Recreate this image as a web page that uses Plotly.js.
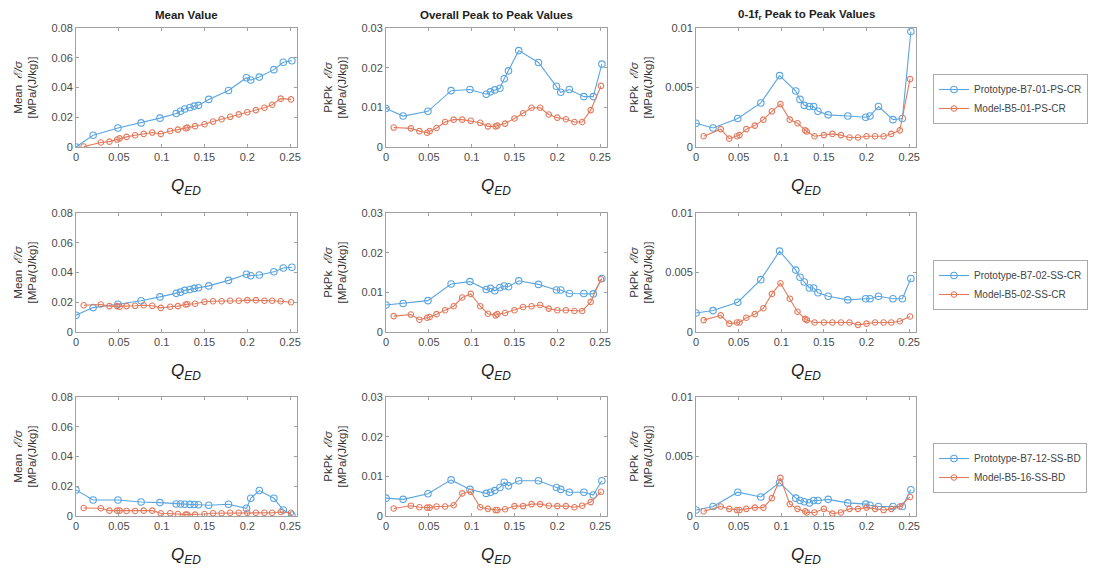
<!DOCTYPE html>
<html>
<head>
<meta charset="utf-8">
<script src="https://cdn.plot.ly/plotly-3.0.1.min.js"></script>
<style>html,body{margin:0;padding:0;background:#fff;}#chart{width:1095px;height:574px;}</style>
</head>
<body>
<div id="chart"></div>
<script>
// ---- Data ----
const qProto = [0, 0.02, 0.049, 0.076, 0.098, 0.117, 0.122, 0.127, 0.133, 0.138, 0.143, 0.155, 0.178, 0.199, 0.204, 0.214, 0.231, 0.242, 0.252];
const qModel = [0.009, 0.029, 0.039, 0.048, 0.051, 0.059, 0.069, 0.079, 0.089, 0.099, 0.110, 0.119, 0.128, 0.130, 0.139, 0.150, 0.160, 0.170, 0.180, 0.190, 0.200, 0.210, 0.220, 0.229, 0.239, 0.251];

const colTitles = ['Mean Value', 'Overall Peak to Peak Values', '0-1f<sub>r</sub> Peak to Peak Values'];
const yLabels = ['Mean  <i>ℰ/σ</i><br>[MPa/(J/kg)]', 'PkPk  <i>ℰ/σ</i><br>[MPa/(J/kg)]', 'PkPk  <i>ℰ/σ</i><br>[MPa/(J/kg)]'];
const xLabel = '<i>Q</i><sub><i>ED</i></sub>';
const protoNames = ['Prototype-B7-01-PS-CR', 'Prototype-B7-02-SS-CR', 'Prototype-B7-12-SS-BD'];
const modelNames = ['Model-B5-01-PS-CR', 'Model-B5-02-SS-CR', 'Model-B5-16-SS-BD'];

// Row 1
const meanProto1 = [0, 0.0079, 0.0128, 0.0162, 0.0194, 0.0225, 0.024, 0.0255, 0.0266, 0.0275, 0.028, 0.032, 0.038, 0.0466, 0.045, 0.047, 0.052, 0.057, 0.058];
const meanModel1 = [0.0003, 0.003, 0.0036, 0.005, 0.0058, 0.0068, 0.0079, 0.0088, 0.0097, 0.0088, 0.0108, 0.0117, 0.0126, 0.013, 0.014, 0.0153, 0.0171, 0.0187, 0.0203, 0.0219, 0.0234, 0.0248, 0.0264, 0.0284, 0.0325, 0.032];
const pkProto1 = [0.0097, 0.0078, 0.009, 0.0142, 0.0145, 0.0133, 0.0139, 0.0144, 0.0148, 0.0172, 0.0192, 0.0243, 0.0213, 0.0153, 0.0138, 0.0145, 0.0127, 0.0127, 0.0209];
const pkModel1 = [0.0049, 0.0047, 0.004, 0.0036, 0.004, 0.0048, 0.0063, 0.0069, 0.0069, 0.0066, 0.0061, 0.0052, 0.0052, 0.0054, 0.0059, 0.0072, 0.0085, 0.0099, 0.0099, 0.0082, 0.0074, 0.007, 0.0063, 0.0063, 0.0093, 0.0154];
const lfProto1 = [0.002, 0.0016, 0.0024, 0.0037, 0.006, 0.0047, 0.004, 0.0035, 0.0034, 0.0034, 0.003, 0.0027, 0.0026, 0.0025, 0.0026, 0.0034, 0.0023, 0.0024, 0.0097];
const lfModel1 = [0.0009, 0.0015, 0.0007, 0.0009, 0.001, 0.0015, 0.0018, 0.0023, 0.003, 0.0036, 0.0023, 0.002, 0.0014, 0.0013, 0.0009, 0.001, 0.0011, 0.001, 0.0008, 0.0008, 0.0009, 0.0009, 0.0009, 0.0011, 0.0014, 0.0057];

// Row 2
const meanProto2 = [0.0113, 0.0164, 0.0187, 0.021, 0.0236, 0.026, 0.0268, 0.028, 0.0286, 0.0293, 0.0297, 0.031, 0.0347, 0.0388, 0.0378, 0.0383, 0.0405, 0.043, 0.0435];
const meanModel2 = [0.018, 0.0185, 0.0174, 0.0174, 0.017, 0.0174, 0.0176, 0.018, 0.0176, 0.0162, 0.017, 0.0174, 0.0185, 0.0187, 0.019, 0.0203, 0.0207, 0.0207, 0.021, 0.021, 0.0214, 0.0214, 0.021, 0.021, 0.0207, 0.02];
const pkProto2 = [0.0068, 0.0072, 0.0079, 0.0121, 0.0127, 0.0107, 0.011, 0.0104, 0.0112, 0.0116, 0.0114, 0.0129, 0.012, 0.0106, 0.0106, 0.0097, 0.0097, 0.0096, 0.0135];
const pkModel2 = [0.004, 0.0044, 0.0031, 0.0036, 0.0038, 0.0045, 0.0055, 0.0065, 0.0087, 0.0096, 0.0065, 0.0046, 0.0042, 0.0045, 0.0048, 0.0055, 0.0063, 0.0065, 0.0068, 0.0059, 0.0055, 0.0055, 0.0053, 0.0053, 0.0076, 0.0133];
const lfProto2 = [0.0016, 0.0018, 0.0025, 0.0044, 0.0068, 0.0052, 0.0046, 0.0042, 0.0037, 0.0037, 0.0033, 0.003, 0.0027, 0.0028, 0.0028, 0.003, 0.0028, 0.0028, 0.0045];
const lfModel2 = [0.001, 0.0014, 0.0007, 0.0008, 0.0008, 0.0012, 0.0015, 0.002, 0.0032, 0.0041, 0.0028, 0.0017, 0.0011, 0.001, 0.0008, 0.0008, 0.0008, 0.0008, 0.0008, 0.0006, 0.0007, 0.0008, 0.0008, 0.0008, 0.0009, 0.0013];

// Row 3
const meanProto3 = [0.0175, 0.0108, 0.0108, 0.0094, 0.009, 0.0081, 0.0081, 0.0079, 0.0078, 0.0077, 0.0076, 0.0072, 0.0079, 0.0052, 0.0119, 0.0171, 0.0119, 0.004, 0.0007];
const meanModel3 = [0.0054, 0.0052, 0.0036, 0.0036, 0.0036, 0.0034, 0.0034, 0.0036, 0.0036, 0.0018, 0.0018, 0.0013, 0.0009, 0.0009, 0.0009, 0.0013, 0.0018, 0.0018, 0.0022, 0.0022, 0.0022, 0.0022, 0.0022, 0.0022, 0.0027, 0.0022];
const pkProto3 = [0.0045, 0.0042, 0.0056, 0.0091, 0.0067, 0.0057, 0.006, 0.0064, 0.0072, 0.0085, 0.0076, 0.0089, 0.0089, 0.0072, 0.0067, 0.006, 0.006, 0.0053, 0.0089];
const pkModel3 = [0.0019, 0.0026, 0.0022, 0.0021, 0.0021, 0.0024, 0.0024, 0.0027, 0.0057, 0.0061, 0.0022, 0.0018, 0.0015, 0.0015, 0.0017, 0.0025, 0.0025, 0.003, 0.003, 0.0026, 0.0025, 0.0025, 0.0022, 0.0026, 0.0035, 0.0061];
const lfProto3 = [0.0005, 0.0008, 0.002, 0.0016, 0.0028, 0.0015, 0.0013, 0.0012, 0.0011, 0.0013, 0.0013, 0.0014, 0.0011, 0.001, 0.0009, 0.0008, 0.0008, 0.0008, 0.0022];
const lfModel3 = [0.0004, 0.0008, 0.0006, 0.0005, 0.0005, 0.0006, 0.0007, 0.0007, 0.0015, 0.0032, 0.001, 0.0006, 0.0004, 0.0003, 0.0003, 0.0006, 0.0002, 0.0003, 0.0006, 0.0006, 0.0007, 0.0006, 0.0005, 0.0006, 0.0008, 0.0016];

const protoSeries = [[meanProto1, pkProto1, lfProto1], [meanProto2, pkProto2, lfProto2], [meanProto3, pkProto3, lfProto3]];
const modelSeries = [[meanModel1, pkModel1, lfModel1], [meanModel2, pkModel2, lfModel2], [meanModel3, pkModel3, lfModel3]];
const yMax = [0.08, 0.03, 0.01];
const yStep = [0.02, 0.01, 0.005];

// ---- Layout geometry (pixels) ----
const W = 1095, H = 574;
const colPx = [[76, 297], [386, 607], [696, 916]];
const rowPx = [[28, 147], [213, 332], [397, 516]];
const legendTop = [74, 260, 443];
const blue = '#5aa5e0';
const red = '#e27a5c';
const font = 'Liberation Sans, Arial, sans-serif';

const traces = [];
const layout = {
  width: W, height: H,
  margin: {l: 0, r: 0, t: 0, b: 0},
  paper_bgcolor: '#fff', plot_bgcolor: '#fff',
  font: {family: font, size: 11, color: '#444'},
  annotations: [],
  showlegend: true
};

for (let r = 0; r < 3; r++) {
  const legendName = r === 0 ? 'legend' : 'legend' + (r + 1);
  layout[legendName] = {
    x: 933 / W, y: 1 - legendTop[r] / H, xanchor: 'left', yanchor: 'top',
    bordercolor: '#aaa', borderwidth: 1, bgcolor: '#fff',
    font: {family: font, size: 10, color: '#444'},
    tracegroupgap: 0, itemwidth: 30
  };
  for (let c = 0; c < 3; c++) {
    const idx = r * 3 + c + 1;
    const xa = idx === 1 ? 'xaxis' : 'xaxis' + idx;
    const ya = idx === 1 ? 'yaxis' : 'yaxis' + idx;
    const xr = idx === 1 ? 'x' : 'x' + idx;
    const yr = idx === 1 ? 'y' : 'y' + idx;
    const xd = [colPx[c][0] / W, colPx[c][1] / W];
    const yd = [1 - rowPx[r][1] / H, 1 - rowPx[r][0] / H];
    const axCommon = {
      showgrid: false, zeroline: false, showline: true, mirror: 'ticks',
      linecolor: '#a0a0a0', linewidth: 1, ticks: 'inside', ticklen: 3,
      tickcolor: '#a0a0a0', tickfont: {family: font, size: 11, color: '#4a4a4a'}
    };
    layout[xa] = Object.assign({}, axCommon, {
      domain: xd, anchor: yr, range: [0, 0.258], tick0: 0, dtick: 0.05, fixedrange: true
    });
    layout[ya] = Object.assign({}, axCommon, {
      domain: yd, anchor: xr, range: [0, yMax[c]], tick0: 0, dtick: yStep[c], fixedrange: true
    });
    traces.push({
      x: qProto, y: protoSeries[r][c], xaxis: xr, yaxis: yr,
      type: 'scatter', mode: 'lines+markers', name: protoNames[r],
      legend: legendName, showlegend: c === 0, legendrank: 1,
      line: {color: blue, width: 1.1},
      marker: {symbol: 'circle-open', size: 6.5, color: blue, line: {width: 1.1}}
    });
    traces.push({
      x: qModel, y: modelSeries[r][c], xaxis: xr, yaxis: yr,
      type: 'scatter', mode: 'lines+markers', name: modelNames[r],
      legend: legendName, showlegend: c === 0, legendrank: 2,
      line: {color: red, width: 1.1},
      marker: {symbol: 'circle-open', size: 5.5, color: red, line: {width: 1.1}}
    });
    // x axis title
    layout.annotations.push({
      text: xLabel, xref: 'paper', yref: 'paper',
      x: (xd[0] + xd[1]) / 2, y: yd[0], xanchor: 'center', yanchor: 'middle',
      yshift: -40, showarrow: false, font: {family: font, size: 17, color: '#222'}
    });
    // y axis title
    layout.annotations.push({
      text: yLabels[c], xref: 'paper', yref: 'paper',
      x: xd[0], y: (yd[0] + yd[1]) / 2, xanchor: 'center', yanchor: 'middle',
      xshift: c === 2 ? -55 : -51, textangle: -90, showarrow: false,
      font: {family: font, size: 11.5, color: '#333'}
    });
    if (r === 0) {
      layout.annotations.push({
        text: '<b>' + colTitles[c] + '</b>', xref: 'paper', yref: 'paper',
        x: (xd[0] + xd[1]) / 2, y: yd[1], xanchor: 'center', yanchor: 'middle',
        yshift: 13, showarrow: false, font: {family: font, size: 11.5, color: '#222'}
      });
    }
  }
}

Plotly.newPlot('chart', traces, layout, {staticPlot: true, displayModeBar: false});
</script>
</body>
</html>
